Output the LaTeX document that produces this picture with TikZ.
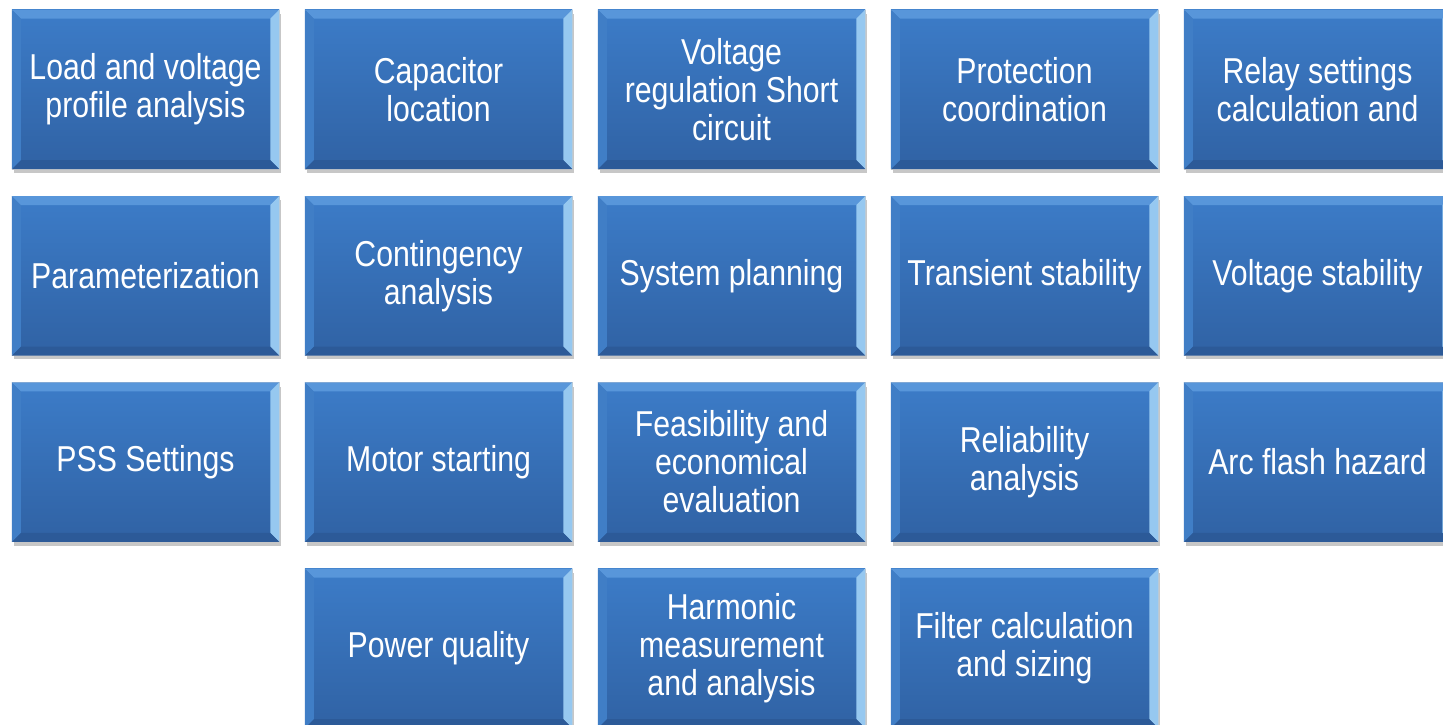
\documentclass[tikz,border=0pt]{standalone}
\usepackage{fontspec}
\setmainfont[FakeStretch=0.84]{Liberation Sans}
\usetikzlibrary{shadows}
\definecolor{tileTop}{RGB}{60,124,200}
\definecolor{tileBot}{RGB}{48,98,164}
\definecolor{bevTop}{RGB}{88,150,218}
\definecolor{bevRight}{RGB}{150,200,240}
\definecolor{bevLeft}{RGB}{64,126,198}
\definecolor{bevBot}{RGB}{44,90,152}

\begin{document}
\begin{tikzpicture}[x=1pt,y=1pt,
  tile/.style={rectangle,minimum width=267,minimum height=159,inner sep=0pt,
    top color=tileTop,bottom color=tileBot,draw=black!20,line width=0.5pt,
    drop shadow={shadow xshift=2pt,shadow yshift=-4pt,opacity=.22,fill=black}},
  label/.style={align=center,text=white,font=\fontsize{36}{38}\selectfont}]
  \fill[white] (0,0) rectangle (1443,725);
  \useasboundingbox (0,0) rectangle (1443,725);
  % grid of study topics: column/row/text
  \foreach \c/\r/\txt in {
      0/0/{Load and voltage\\profile analysis},
      1/0/{Capacitor\\location},
      2/0/{Voltage\\regulation Short\\circuit},
      3/0/{Protection\\coordination},
      4/0/{Relay settings\\calculation and},
      0/1/{Parameterization},
      1/1/{Contingency\\analysis},
      2/1/{System planning},
      3/1/{Transient stability},
      4/1/{Voltage stability},
      0/2/{PSS Settings},
      1/2/{Motor starting},
      2/2/{Feasibility and\\economical\\evaluation},
      3/2/{Reliability\\analysis},
      4/2/{Arc flash hazard},
      1/3/{Power quality},
      2/3/{Harmonic\\measurement\\and analysis},
      3/3/{Filter calculation\\and sizing}}{
    \node[tile] (t\r\c) at ({145.5+293*\c},{635.5-186.3*\r}) {};
    % bevelled edges
    \fill[bevTop] (t\r\c.north west) -- (t\r\c.north east)
      -- ([shift={(-9pt,-9pt)}]t\r\c.north east) -- ([shift={(9pt,-9pt)}]t\r\c.north west) -- cycle;
    \fill[bevRight] (t\r\c.north east) -- (t\r\c.south east)
      -- ([shift={(-9pt,9pt)}]t\r\c.south east) -- ([shift={(-9pt,-9pt)}]t\r\c.north east) -- cycle;
    \fill[bevBot] (t\r\c.south east) -- (t\r\c.south west)
      -- ([shift={(9pt,9pt)}]t\r\c.south west) -- ([shift={(-9pt,9pt)}]t\r\c.south east) -- cycle;
    \fill[bevLeft] (t\r\c.south west) -- (t\r\c.north west)
      -- ([shift={(9pt,-9pt)}]t\r\c.north west) -- ([shift={(9pt,9pt)}]t\r\c.south west) -- cycle;
    \node[label] (l\r\c) at (t\r\c) {\txt};
  }
\end{tikzpicture}
\end{document}
